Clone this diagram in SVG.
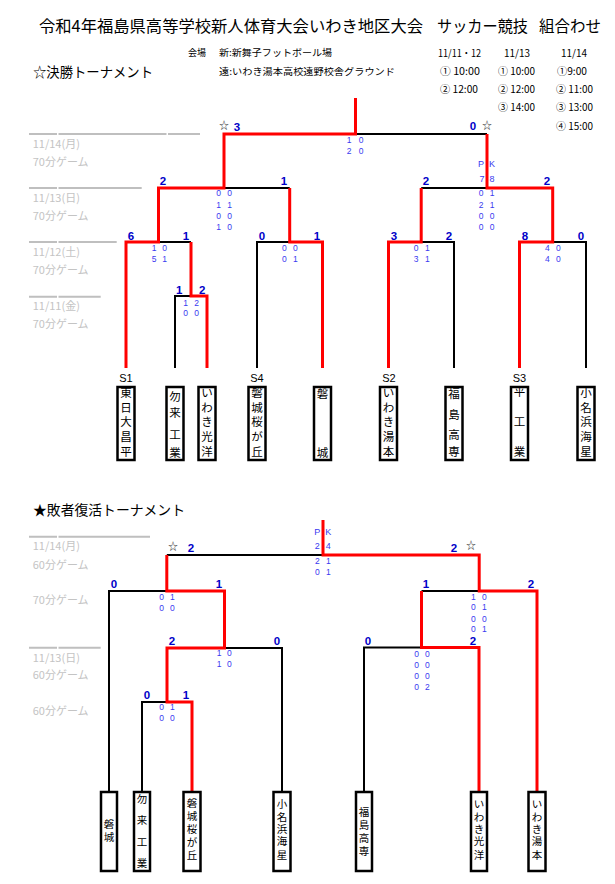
<svg xmlns="http://www.w3.org/2000/svg" width="615" height="884" viewBox="0 0 615 884">
<style>
.bk{stroke:#000;stroke-width:2;fill:none;stroke-linejoin:miter}
.rd{stroke:#f00;stroke-width:3;fill:none;stroke-linejoin:miter}
.gl{stroke:#bfbfbf;stroke-width:2;fill:none}
.sc{font-family:"Liberation Sans",Arial,sans-serif;font-weight:bold;font-size:11.5px;fill:#0000c8;text-anchor:middle}
.ss{font-family:"Liberation Sans",Arial,sans-serif;font-size:8.5px;fill:#3a3af0;text-anchor:middle}
.pk{font-family:"Liberation Sans",Arial,sans-serif;font-size:9px;fill:#3a3af0;text-anchor:middle}
.gt{font-family:"Noto Sans CJK JP",sans-serif;font-size:11px;fill:#c4c4c4}
.st{font-family:"Noto Sans CJK JP",sans-serif;font-size:10px;fill:#333;text-anchor:middle}
.tm{font-family:"Noto Sans CJK JP",sans-serif;font-size:11.5px;fill:#000;text-anchor:middle}
.tb{font-family:"Noto Sans CJK JP",sans-serif;font-size:10.5px;fill:#000;text-anchor:middle}
.bx{fill:#fff;stroke:#000;stroke-width:2.5}
.hd{font-family:"Noto Sans CJK JP",sans-serif;fill:#000}
.sl{font-family:"Liberation Sans",Arial,sans-serif;font-size:11px;fill:#000;text-anchor:middle}
</style>

<g id="header">
<text class="hd" x="39" y="32" font-size="16" textLength="384" lengthAdjust="spacingAndGlyphs">令和4年福島県高等学校新人体育大会いわき地区大会</text>
<text class="hd" x="437" y="32" font-size="16" textLength="91" lengthAdjust="spacingAndGlyphs">サッカー競技</text>
<text class="hd" x="539" y="32" font-size="16" textLength="62" lengthAdjust="spacingAndGlyphs">組合わせ</text>
<text class="hd" x="188" y="56.3" font-size="9.5" textLength="18" lengthAdjust="spacingAndGlyphs">会場</text>
<text class="hd" x="219" y="56.3" font-size="9.5" textLength="113" lengthAdjust="spacingAndGlyphs">新:新舞子フットボール場</text>
<text class="hd" x="219" y="74.6" font-size="9.5" textLength="176" lengthAdjust="spacingAndGlyphs">遠:いわき湯本高校遠野校舎グラウンド</text>
<text class="hd" x="33" y="77" font-size="14" textLength="120" lengthAdjust="spacingAndGlyphs">☆決勝トーナメント</text>
<text class="hd" x="438" y="56.5" font-size="10" textLength="43" lengthAdjust="spacingAndGlyphs">11/11・12</text>
<text class="hd" x="504" y="56.5" font-size="10" textLength="26" lengthAdjust="spacingAndGlyphs">11/13</text>
<text class="hd" x="561" y="56.5" font-size="10" textLength="26" lengthAdjust="spacingAndGlyphs">11/14</text>
<text class="hd" x="440" y="74.8" font-size="10" textLength="40" lengthAdjust="spacingAndGlyphs">① 10:00</text>
<text class="hd" x="440" y="93.1" font-size="10" textLength="38" lengthAdjust="spacingAndGlyphs">② 12:00</text>
<text class="hd" x="498" y="74.8" font-size="10" textLength="37" lengthAdjust="spacingAndGlyphs">① 10:00</text>
<text class="hd" x="498" y="93.1" font-size="10" textLength="37" lengthAdjust="spacingAndGlyphs">② 12:00</text>
<text class="hd" x="498" y="111.1" font-size="10" textLength="37" lengthAdjust="spacingAndGlyphs">③ 14:00</text>
<text class="hd" x="557" y="74.8" font-size="10" textLength="30" lengthAdjust="spacingAndGlyphs">①9:00</text>
<text class="hd" x="556" y="93.1" font-size="10" textLength="37" lengthAdjust="spacingAndGlyphs">② 11:00</text>
<text class="hd" x="556" y="111.1" font-size="10" textLength="37" lengthAdjust="spacingAndGlyphs">③ 13:00</text>
<text class="hd" x="556" y="129.8" font-size="10" textLength="37" lengthAdjust="spacingAndGlyphs">④ 15:00</text>
<text class="hd" x="33" y="515.3" font-size="14" textLength="152" lengthAdjust="spacingAndGlyphs">★敗者復活トーナメント</text>
</g>

<g id="round-labels">
<path class="gl" d="M29,134H57M58.5,134H166.5M168,134H200"/>
<path class="gl" d="M29,188H57M58.5,188H141.7"/>
<path class="gl" d="M29,242H57M58.5,242H116.7"/>
<path class="gl" d="M29,296.7H57M58.5,296.7H100.7"/>
<path class="gl" d="M29,536.7H57M58.5,536.7H150"/>
<path class="gl" d="M29,647.7H57M58.5,647.7H100.7"/>
<text class="gt" x="32.7" y="147.5">11/14(月)</text>
<text class="gt" x="32.7" y="165.9">70分ゲーム</text>
<text class="gt" x="32.7" y="201.5">11/13(日)</text>
<text class="gt" x="32.7" y="219.9">70分ゲーム</text>
<text class="gt" x="32.7" y="256.2">11/12(土)</text>
<text class="gt" x="32.7" y="274.2">70分ゲーム</text>
<text class="gt" x="32.7" y="310.2">11/11(金)</text>
<text class="gt" x="32.7" y="328.2">70分ゲーム</text>
<text class="gt" x="32.7" y="550.2">11/14(月)</text>
<text class="gt" x="32.7" y="568.5">60分ゲーム</text>
<text class="gt" x="32.7" y="604.2">70分ゲーム</text>
<text class="gt" x="32.7" y="661.5">11/13(日)</text>
<text class="gt" x="32.7" y="679.2">60分ゲーム</text>
<text class="gt" x="32.7" y="715.2">60分ゲーム</text>
</g>

<g id="connectors">
<path class="bk" d="M175,368V296H191"/>
<path class="bk" d="M158.5,242H191"/>
<path class="bk" d="M257,368V242H289.7"/>
<path class="bk" d="M224,188H289.7"/>
<path class="bk" d="M454,368V242H421.2"/>
<path class="bk" d="M586,368V242H552.7"/>
<path class="bk" d="M421.2,188H487"/>
<path class="bk" d="M355.5,134H487"/>
<path class="rd" d="M126,368V242H158.5V188H224V134H355.5V98"/>
<path class="rd" d="M207,368V296H191V242"/>
<path class="rd" d="M322.5,368V242H289.7V188"/>
<path class="rd" d="M388.5,368V242H421.2V188"/>
<path class="rd" d="M519.5,368V242H552.7V188H487V134"/>

<path class="bk" d="M109,792V591H166.8"/>
<path class="bk" d="M142,792V702H167"/>
<path class="bk" d="M282,792V648H224.5"/>
<path class="bk" d="M364,792V647.5H421.5"/>
<path class="bk" d="M421.5,591H479.2"/>
<path class="bk" d="M166.8,555H323"/>
<path class="rd" d="M192,792V702H167V648H224.5V591H166.8V555"/>
<path class="rd" d="M479,792V647.5H421.5V591"/>
<path class="rd" d="M537,792V591H479.2V555H323V520"/>
</g>

<g id="scores-main">
<text class="st" x="224" y="129">☆</text>
<text class="sc" x="237" y="131">3</text>
<text class="sc" x="473" y="130">0</text>
<text class="st" x="487" y="129">☆</text>
<text class="ss" x="349" y="143">1</text><text class="ss" x="361" y="143">0</text>
<text class="ss" x="349" y="154">2</text><text class="ss" x="361" y="154">0</text>
<text class="pk" x="481" y="167.3">P</text><text class="pk" x="492" y="167.3">K</text>
<text class="pk" x="482" y="182.3">7</text><text class="pk" x="492" y="182.3">8</text>

<text class="sc" x="163" y="185">2</text>
<text class="sc" x="284" y="185">1</text>
<text class="ss" x="218.5" y="196.3">0</text><text class="ss" x="229.5" y="196.3">0</text>
<text class="ss" x="218.5" y="208">1</text><text class="ss" x="229.5" y="208">1</text>
<text class="ss" x="218.5" y="219">0</text><text class="ss" x="229.5" y="219">0</text>
<text class="ss" x="218.5" y="230">1</text><text class="ss" x="229.5" y="230">0</text>

<text class="sc" x="426" y="185">2</text>
<text class="sc" x="547" y="185">2</text>
<text class="ss" x="481" y="196.3">0</text><text class="ss" x="492" y="196.3">1</text>
<text class="ss" x="481" y="208">2</text><text class="ss" x="492" y="208">1</text>
<text class="ss" x="481" y="219">0</text><text class="ss" x="492" y="219">0</text>
<text class="ss" x="481" y="230">0</text><text class="ss" x="492" y="230">0</text>

<text class="sc" x="131" y="240">6</text>
<text class="sc" x="186" y="240">1</text>
<text class="ss" x="154" y="250.7">1</text><text class="ss" x="164.5" y="250.7">0</text>
<text class="ss" x="154" y="262">5</text><text class="ss" x="164.5" y="262">1</text>

<text class="sc" x="262" y="240">0</text>
<text class="sc" x="317" y="240">1</text>
<text class="ss" x="284.3" y="250.7">0</text><text class="ss" x="295.3" y="250.7">0</text>
<text class="ss" x="284.3" y="262">0</text><text class="ss" x="295.3" y="262">1</text>

<text class="sc" x="394" y="240">3</text>
<text class="sc" x="449" y="240">2</text>
<text class="ss" x="416" y="250.7">0</text><text class="ss" x="427.3" y="250.7">1</text>
<text class="ss" x="416" y="262">3</text><text class="ss" x="427.3" y="262">1</text>

<text class="sc" x="525" y="240">8</text>
<text class="sc" x="581" y="240">0</text>
<text class="ss" x="547.3" y="250.7">4</text><text class="ss" x="558.3" y="250.7">0</text>
<text class="ss" x="547.3" y="262">4</text><text class="ss" x="558.3" y="262">0</text>

<text class="sc" x="179.3" y="294">1</text>
<text class="sc" x="202.3" y="294">2</text>
<text class="ss" x="185.7" y="305.7">1</text><text class="ss" x="196.7" y="305.7">2</text>
<text class="ss" x="185.7" y="316.3">0</text><text class="ss" x="196.7" y="316.3">0</text>
</g>

<g id="scores-repechage">
<text class="st" x="173" y="549.5">☆</text>
<text class="sc" x="191" y="552">2</text>
<text class="sc" x="454" y="552">2</text>
<text class="st" x="471" y="548.8">☆</text>
<text class="pk" x="317.3" y="534.9">P</text><text class="pk" x="328.3" y="534.9">K</text>
<text class="pk" x="317.3" y="549">2</text><text class="pk" x="328.3" y="549">4</text>
<text class="ss" x="317.3" y="564">2</text><text class="ss" x="328.3" y="564">1</text>
<text class="ss" x="317.3" y="574.7">0</text><text class="ss" x="328.3" y="574.7">1</text>

<text class="sc" x="114" y="588">0</text>
<text class="sc" x="219" y="588">1</text>
<text class="ss" x="161.7" y="599.7">0</text><text class="ss" x="172.3" y="599.7">1</text>
<text class="ss" x="161.7" y="610.7">0</text><text class="ss" x="172.3" y="610.7">0</text>

<text class="sc" x="172" y="645">2</text>
<text class="sc" x="277" y="645">0</text>
<text class="ss" x="219" y="656.3">1</text><text class="ss" x="229.3" y="656.3">0</text>
<text class="ss" x="219" y="667.3">1</text><text class="ss" x="229.3" y="667.3">0</text>

<text class="sc" x="147" y="699">0</text>
<text class="sc" x="186" y="699">1</text>
<text class="ss" x="161.7" y="710.3">0</text><text class="ss" x="172.3" y="710.3">1</text>
<text class="ss" x="161.7" y="721.3">0</text><text class="ss" x="172.3" y="721.3">0</text>

<text class="sc" x="426" y="588">1</text>
<text class="sc" x="531" y="588">2</text>
<text class="ss" x="473.3" y="599.7">1</text><text class="ss" x="484.3" y="599.7">0</text>
<text class="ss" x="473.3" y="610.3">0</text><text class="ss" x="484.3" y="610.3">1</text>
<text class="ss" x="473.3" y="621.7">0</text><text class="ss" x="484.3" y="621.7">0</text>
<text class="ss" x="473.3" y="632.3">0</text><text class="ss" x="484.3" y="632.3">1</text>

<text class="sc" x="368" y="645">0</text>
<text class="sc" x="473" y="645">2</text>
<text class="ss" x="416.7" y="657">0</text><text class="ss" x="427.3" y="657">0</text>
<text class="ss" x="416.7" y="668">0</text><text class="ss" x="427.3" y="668">0</text>
<text class="ss" x="416.7" y="679">0</text><text class="ss" x="427.3" y="679">0</text>
<text class="ss" x="416.7" y="689.7">0</text><text class="ss" x="427.3" y="689.7">2</text>
</g>

<g id="seeds">
<text class="sl" x="126" y="381.7">S1</text>
<text class="sl" x="257" y="381.7">S4</text>
<text class="sl" x="389" y="381.7">S2</text>
<text class="sl" x="519.5" y="381.7">S3</text>
</g>

<g id="team-higashinippon">
<rect class="bx" x="117.5" y="387" width="17" height="73"/>
<text class="tm"><tspan x="126" y="397.1">東</tspan><tspan x="126" y="411.8">日</tspan><tspan x="126" y="426.4">大</tspan><tspan x="126" y="441.1">昌</tspan><tspan x="126" y="455.8">平</tspan></text>
</g>
<g id="team-nakoso">
<rect class="bx" x="166.5" y="387" width="17" height="73"/>
<text class="tm"><tspan x="175" y="401.1">勿</tspan><tspan x="175" y="416.7">来</tspan><tspan x="175" y="439.4">工</tspan><tspan x="175" y="457.4">業</tspan></text>
</g>
<g id="team-iwakikoyo">
<rect class="bx" x="198.5" y="387" width="17" height="73"/>
<text class="tm"><tspan x="207" y="397.1">い</tspan><tspan x="207" y="411.8">わ</tspan><tspan x="207" y="426.4">き</tspan><tspan x="207" y="441.1">光</tspan><tspan x="207" y="455.8">洋</tspan></text>
</g>
<g id="team-iwakisakuragaoka">
<rect class="bx" x="248.5" y="387" width="17" height="73"/>
<text class="tm"><tspan x="257" y="397.1">磐</tspan><tspan x="257" y="411.8">城</tspan><tspan x="257" y="426.4">桜</tspan><tspan x="257" y="441.1">が</tspan><tspan x="257" y="455.8">丘</tspan></text>
</g>
<g id="team-iwaki">
<rect class="bx" x="314" y="387" width="17" height="73"/>
<text class="tm"><tspan x="322.5" y="398.4">磐</tspan><tspan x="322.5" y="457.4">城</tspan></text>
</g>
<g id="team-yumoto">
<rect class="bx" x="380" y="387" width="17" height="73"/>
<text class="tm"><tspan x="388.5" y="397.1">い</tspan><tspan x="388.5" y="411.8">わ</tspan><tspan x="388.5" y="426.4">き</tspan><tspan x="388.5" y="441.1">湯</tspan><tspan x="388.5" y="455.8">本</tspan></text>
</g>
<g id="team-fukushimakosen">
<rect class="bx" x="445.5" y="387" width="17" height="73"/>
<text class="tm"><tspan x="454" y="397.7">福</tspan><tspan x="454" y="418.7">島</tspan><tspan x="454" y="439.4">高</tspan><tspan x="454" y="456.1">専</tspan></text>
</g>
<g id="team-tairakogyo">
<rect class="bx" x="511" y="387" width="17" height="73"/>
<text class="tm"><tspan x="519.5" y="396.1">平</tspan><tspan x="519.5" y="426.1">工</tspan><tspan x="519.5" y="456.1">業</tspan></text>
</g>
<g id="team-onahamakaisei">
<rect class="bx" x="577.5" y="387" width="17" height="73"/>
<text class="tm"><tspan x="586" y="397.1">小</tspan><tspan x="586" y="411.8">名</tspan><tspan x="586" y="426.4">浜</tspan><tspan x="586" y="441.1">海</tspan><tspan x="586" y="455.8">星</tspan></text>
</g>

<g id="rteam-iwaki">
<rect class="bx" x="101" y="792" width="16" height="79"/>
<text class="tb"><tspan x="109" y="828.3">磐</tspan><tspan x="109" y="840.7">城</tspan></text>
</g>
<g id="rteam-nakoso">
<rect class="bx" x="134" y="792" width="16" height="79"/>
<text class="tb"><tspan x="142" y="803.3">勿</tspan><tspan x="142" y="824">来</tspan><tspan x="142" y="845.7">工</tspan><tspan x="142" y="867.3">業</tspan></text>
</g>
<g id="rteam-iwakisakuragaoka">
<rect class="bx" x="183.5" y="792" width="17" height="79"/>
<text class="tb"><tspan x="192" y="807">磐</tspan><tspan x="192" y="820">城</tspan><tspan x="192" y="833">桜</tspan><tspan x="192" y="846">が</tspan><tspan x="192" y="859">丘</tspan></text>
</g>
<g id="rteam-onahamakaisei">
<rect class="bx" x="273.5" y="792" width="17" height="79"/>
<text class="tb"><tspan x="282" y="808">小</tspan><tspan x="282" y="820.7">名</tspan><tspan x="282" y="833">浜</tspan><tspan x="282" y="845.3">海</tspan><tspan x="282" y="859">星</tspan></text>
</g>
<g id="rteam-fukushimakosen">
<rect class="bx" x="356" y="792" width="16" height="79"/>
<text class="tb"><tspan x="364" y="816">福</tspan><tspan x="364" y="829">島</tspan><tspan x="364" y="842">高</tspan><tspan x="364" y="855">専</tspan></text>
</g>
<g id="rteam-iwakikoyo">
<rect class="bx" x="471" y="792" width="16" height="79"/>
<text class="tb"><tspan x="479" y="808">い</tspan><tspan x="479" y="820.7">わ</tspan><tspan x="479" y="833">き</tspan><tspan x="479" y="845.3">光</tspan><tspan x="479" y="859">洋</tspan></text>
</g>
<g id="rteam-yumoto">
<rect class="bx" x="528.5" y="792" width="17" height="79"/>
<text class="tb"><tspan x="537" y="808">い</tspan><tspan x="537" y="820.7">わ</tspan><tspan x="537" y="833">き</tspan><tspan x="537" y="845.3">湯</tspan><tspan x="537" y="859">本</tspan></text>
</g>
</svg>
